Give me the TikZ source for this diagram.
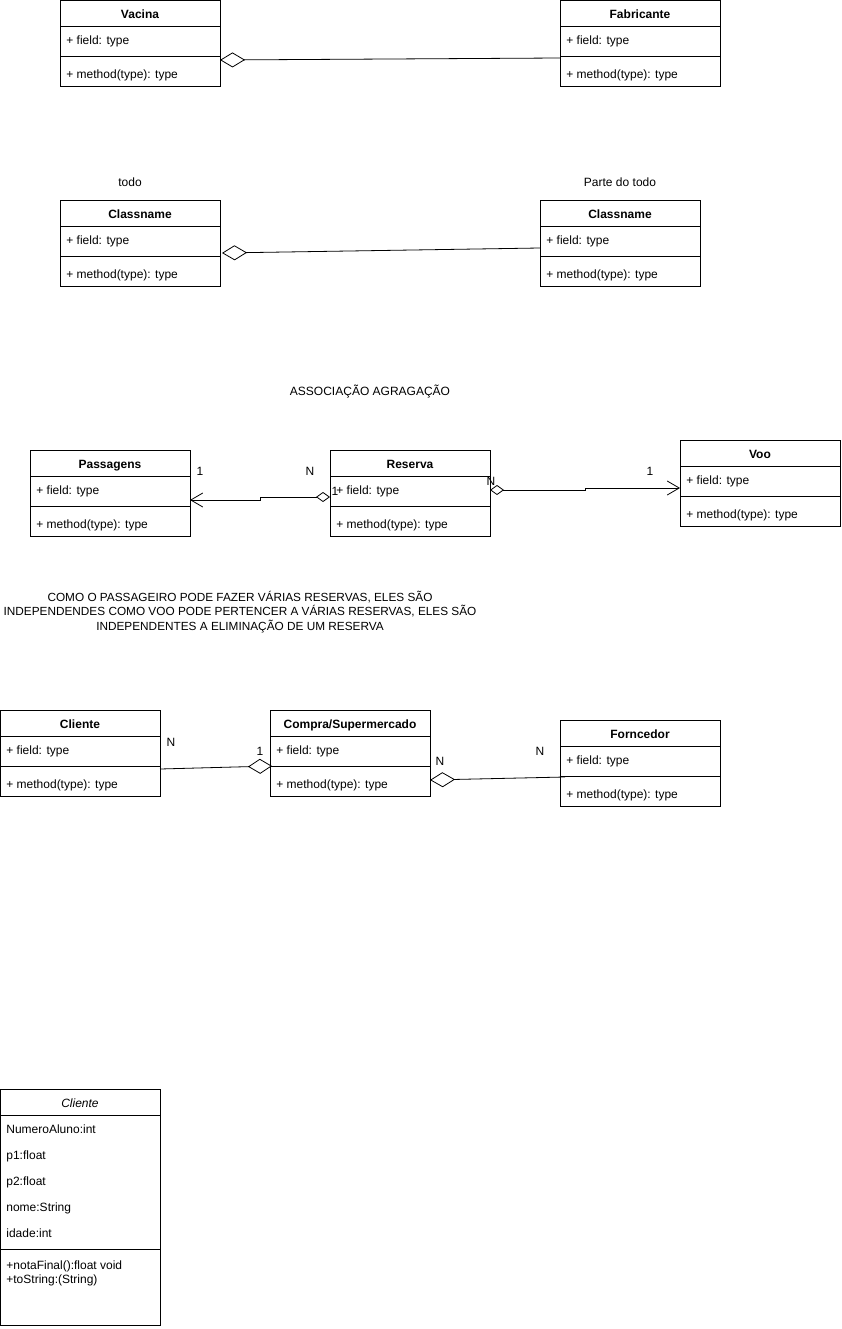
\documentclass[tikz,border=0pt]{standalone}
\usepackage{fontspec}
\setmainfont{Liberation Sans}
\usepackage{tikz}
\usetikzlibrary{positioning, calc, arrows.meta}

\tikzset{
  classbox/.style={draw, line width=0.8pt, rectangle, anchor=north west,
    minimum width=160pt, minimum height=86pt, inner sep=0pt, outer sep=0pt},
  ctitle/.style={font=\fontsize{12}{14}\selectfont\bfseries, inner sep=0pt,
    text height=8.6pt, text depth=2.5pt},
  member/.style={anchor=west, inner sep=0pt, text height=8.6pt, text depth=2.5pt},
  lbl/.style={inner sep=0pt},
  agg/.style={{Diamond[open,length=25pt,width=15pt]}-},
  aggnav/.style={{Diamond[open,length=14pt,width=10pt]}-{Straight Barb[length=12pt,width=14pt]}},
}

% name, x, y, title
\newcommand{\umlclass}[4]{%
  \node[classbox] (#1) at (#2,#3) {};
  \draw[line width=0.8pt] ($(#1.north west)+(0,26)$) -- ($(#1.north east)+(0,26)$);
  \draw[line width=0.8pt] ($(#1.north west)+(0,56)$) -- ($(#1.north east)+(0,56)$);
  \node[ctitle] at ($(#1.north)+(0,15)$) {#4};
  \node[member] at ($(#1.north west)+(6,41)$) {+ field: type};
  \node[member] at ($(#1.north west)+(6,75)$) {+ method(type): type};
}

\begin{document}
\begin{tikzpicture}[x=1pt, y=-1pt, line width=0.8pt, font=\fontsize{12}{14}\selectfont]
  \useasboundingbox (0,0) rectangle (841,1329);

  % composicao basica
  \umlclass{vacina}{60}{0}{Vacina}
  \umlclass{fabricante}{560}{0}{Fabricante}
  \draw[agg] ($(vacina.east)+(0,17)$) -- ($(fabricante.west)+(0,15)$);

  % todo / parte
  \node[lbl] (todo) at (130,182) {todo};
  \node[lbl] (parte) at (620,182) {Parte do todo};
  \umlclass{todoclass}{60}{200}{Classname}
  \umlclass{parteclass}{540}{200}{Classname}
  \draw[agg] ($(todoclass.east)+(2,10)$) -- ($(parteclass.west)+(0,5)$);

  % associacao agregacao
  \node[lbl] (assoc) at (370,392) {ASSOCIAÇÃO AGRAGAÇÃO};
  \umlclass{passagens}{30}{450}{Passagens}
  \umlclass{reserva}{330}{450}{Reserva}
  \umlclass{voo}{680}{440}{Voo}
  \coordinate (r1) at ($(reserva.west)+(0,4)$);
  \coordinate (p1) at ($(passagens.east)+(0,7)$);
  \coordinate (r2) at ($(reserva.east)+(0,-3)$);
  \coordinate (v1) at ($(voo.west)+(0,5)$);
  \draw[aggnav] (r1) -- ++(-70,0) |- (p1);
  \draw[aggnav] (r2) -- ++(95,0) |- (v1);
  \node[lbl] at (200,471) {1};
  \node[lbl] at (310,471) {N};
  \node[lbl] at (335,491) {1};
  \node[lbl] at (491,481) {N};
  \node[lbl] at (650,471) {1};

  \node[lbl, align=center, font=\fontsize{11.8}{14.5}\selectfont] (nota) at (240,612)
    {COMO O PASSAGEIRO PODE FAZER VÁRIAS RESERVAS, ELES SÃO\\
     INDEPENDENDES COMO VOO PODE PERTENCER A VÁRIAS RESERVAS, ELES SÃO\\
     INDEPENDENTES A ELIMINAÇÃO DE UM RESERVA};

  % compra
  \umlclass{cliente}{0}{710}{Cliente}
  \umlclass{compra}{270}{710}{Compra/Supermercado}
  \umlclass{forncedor}{560}{720}{Forncedor}
  \draw[-{Diamond[open,length=24pt,width=15pt]}] ($(cliente.east)+(0,16)$) -- ($(compra.west)+(2,13)$);
  \draw[agg] ($(compra.east)+(0,27)$) -- ($(forncedor.west)+(5,14)$);
  \node[lbl] at (171,742) {N};
  \node[lbl] at (260,751) {1};
  \node[lbl] at (440,761) {N};
  \node[lbl] at (540,751) {N};

  % classe cliente
  \node[draw, rectangle, anchor=north west, minimum width=160pt, minimum height=236pt,
        inner sep=0pt, outer sep=0pt] (aluno) at (0,1089) {};
  \draw ($(aluno.north west)+(0,26)$) -- ($(aluno.north east)+(0,26)$);
  \draw ($(aluno.north west)+(0,160)$) -- ($(aluno.north east)+(0,160)$);
  \node[ctitle, font=\fontsize{12}{14}\selectfont\itshape] at ($(aluno.north)+(0,15)$) {Cliente};
  \foreach \txt [count=\i] in {NumeroAluno:int, p1:float, p2:float, nome:String, idade:int}
    \node[member] at ($(aluno.north west)+(6,15+26*\i)$) {\txt};
  \node[member, align=left, anchor=north west, text height=, text depth=] at ($(aluno.north west)+(6,171)$)
    {+notaFinal():float void\\+toString:(String)};
\end{tikzpicture}
\end{document}
